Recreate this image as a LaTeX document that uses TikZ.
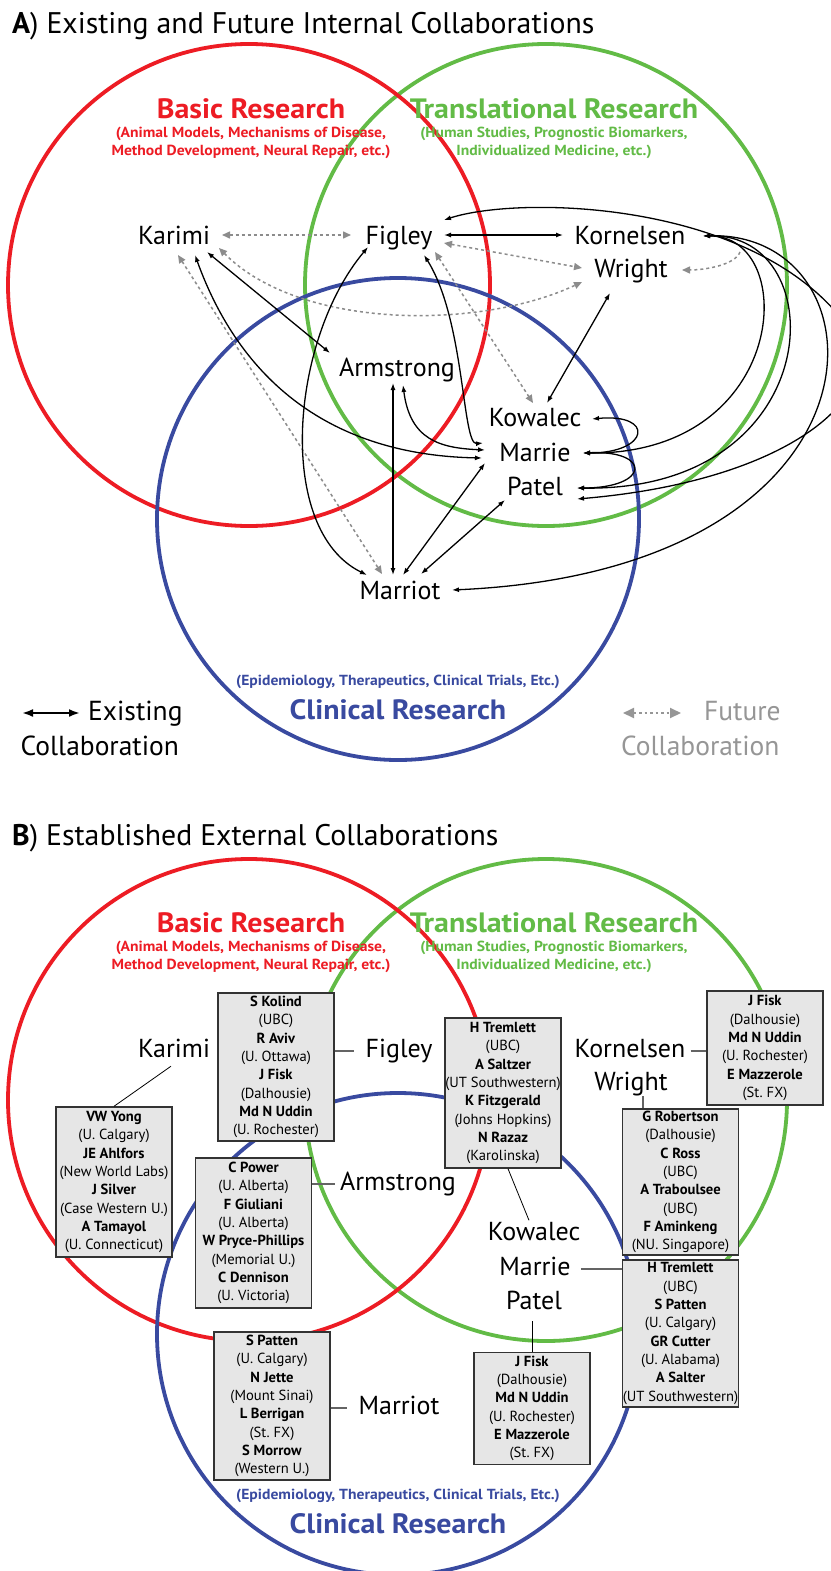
\documentclass[tikz,border=0pt]{standalone}
\usepackage{graphicx}
\usepackage{fontspec}
\setmainfont{PT Sans}
\usetikzlibrary{arrows.meta,calc}
\definecolor{cred}{RGB}{237,28,36}
\definecolor{cgreen}{RGB}{98,187,70}
\definecolor{cblue}{RGB}{57,74,160}
\definecolor{fgrey}{RGB}{140,140,140}
\definecolor{lgrey}{RGB}{150,150,150}
\definecolor{boxfill}{RGB}{230,230,230}
\definecolor{boxline}{RGB}{51,51,51}
\definecolor{connc}{RGB}{100,100,100}
\newcommand{\widen}[1]{\scalebox{1.07}[1]{#1}}
\frenchspacing
\begin{document}
\frenchspacing
\begin{tikzpicture}[x=1pt,y=-1pt,
  circ/.style={line width=3.8pt},
  lbl/.style={font=\fontsize{26}{30}\selectfont, inner sep=0pt, text height=19pt, text depth=6pt, anchor=base},
  ttl/.style={font=\fontsize{29.8}{34}\selectfont, inner sep=0pt, anchor=base west},
  cat/.style={font=\bfseries\fontsize{28}{32}\selectfont, inner sep=0pt, anchor=base},
  subcat/.style={font=\bfseries\fontsize{14.6}{17}\selectfont, inner sep=0pt, anchor=base},
  leg/.style={font=\fontsize{27.5}{32}\selectfont, inner sep=0pt, anchor=base west},
  ex/.style={<->, >={Latex[length=7pt,width=5pt]}, line width=1.3pt},
  fu/.style={<->, draw=fgrey, line width=1.5pt, dash pattern=on 3pt off 3pt, >={Triangle[length=8pt,width=7pt,fill=fgrey]}},
  exbig/.style={<->, >={Latex[length=11pt,width=8pt]}, line width=2.2pt},
  fubig/.style={<->, draw=lgrey, line width=2pt, dash pattern=on 2.5pt off 3pt, >={Triangle[length=11pt,width=10pt,fill=lgrey]}},
  box/.style={draw=boxline, fill=boxfill, line width=1.4pt, align=center, minimum width=116pt, inner xsep=0.5pt, inner ysep=2pt, font=\fontsize{14.6}{18.33}\selectfont},
  conn/.style={draw=connc, line width=2pt},
  thin/.style={draw=black, line width=0.8pt}
]
\useasboundingbox (0,0) rectangle (830,1571);
\fill[white] (0,0) rectangle (830,1571);

% ================= PART A =================
\node[ttl] (titleA) at (12,33.5) {\textbf{A}) Existing and Future Internal Collaborations};

\draw[circ, cgreen] (546,285) circle (241);
\draw[circ, cred] (249,285) circle (241);
\draw[circ, cblue] (398,519) circle (241);

\node[cat, text=cred] (basicA) at (251,118.3) {\widen{Basic Research}};
\node[subcat, text=cred] (basicA1) at (251,137) {\widen{(Animal Models, Mechanisms of Disease,}};
\node[subcat, text=cred] (basicA2) at (251,155) {\widen{Method Development, Neural Repair, etc.)}};
\node[cat, text=cgreen] (transA) at (554,118.3) {\widen{Translational Research}};
\node[subcat, text=cgreen] (transA1) at (554,137) {\widen{(Human Studies, Prognostic Biomarkers,}};
\node[subcat, text=cgreen] (transA2) at (554,155) {\widen{Individualized Medicine, etc.)}};
\node[subcat, text=cblue] (clinA1) at (398,685) {\widen{(Epidemiology, Therapeutics, Clinical Trials, Etc.)}};
\node[cat, text=cblue] (clinA) at (398,719) {\widen{Clinical Research}};

\node[lbl] (karimi) at (174,244) {Karimi};
\node[lbl] (figley) at (399,244) {Figley};
\node[lbl] (kornelsen) at (630,244) {Kornelsen};
\node[lbl] (wright) at (631,277) {Wright};
\node[lbl] (armstrong) at (397,376) {Armstrong};
\node[lbl] (kowalec) at (535,426) {Kowalec};
\node[lbl] (marrie) at (535,461) {Marrie};
\node[lbl] (patel) at (535,495) {Patel};
\node[lbl] (marriot) at (400,599) {Marriot};

% future (dashed)
\draw[fu] ($(karimi)+(48,-2.5)$) -- ($(figley)+(-48,-2.5)$);
\draw[fu] ($(karimi)+(4,17.5)$) -- ($(marriot)+(-18,-18.5)$);
\draw[fu] ($(karimi)+(45,10.5)$) .. controls (300,330) and (480,330) .. ($(wright)+(-49,11.5)$);
\draw[fu] ($(figley)+(45,5.5)$) -- ($(wright)+(-49,-2.5)$);
\draw[fu] ($(figley)+(36,14.5)$) -- ($(kowalec)+(-2,-16.5)$);
\draw[fu,->] ($(kornelsen)+(110,14.5)$) .. controls (735,265) and (705,270) .. ($(wright)+(51,-0.5)$);

% existing (solid)
\draw[ex] ($(figley)+(45,-2.5)$) -- ($(kornelsen)+(-67,-2.5)$);
\draw[ex] ($(figley)+(45,-17.5)$) .. controls (520,195) and (760,200) .. (850,330) .. controls (890,388) and (800,480) .. ($(patel)+(42,10.5)$);
\draw[ex] ($(kornelsen)+(73,-1.5)$) .. controls (800,235) and (790,455) .. ($(marrie)+(48,-1.5)$);
\draw[ex] ($(kornelsen)+(73,-1.5)$) .. controls (835,232) and (830,492) .. ($(patel)+(42,-0.5)$);
\draw[ex] ($(kornelsen)+(73,-1.5)$) .. controls (890,230) and (905,570) .. ($(marriot)+(52,-2.5)$);
\draw[ex] ($(kowalec)+(57,-0.5)$) .. controls (655,413) and (650,453) .. ($(marrie)+(48,-1.5)$);
\draw[ex] ($(marrie)+(48,-1.5)$) .. controls (652,450) and (650,488) .. ($(patel)+(42,-0.5)$);
\draw[ex] ($(wright)+(-21,22.5)$) -- ($(kowalec)+(12,-16.5)$);
\draw[ex] ($(karimi)+(33,14.5)$) -- ($(armstrong)+(-67,-16.5)$);
\draw[ex] ($(karimi)+(21,17.5)$) .. controls (240,380) and (330,455) .. ($(marrie)+(-53,3.5)$);
\draw[ex] ($(armstrong)+(6,15.5)$) .. controls (410,440) and (440,448) .. ($(marrie)+(-50,-4.5)$);
\draw[ex] ($(figley)+(25,17.5)$) .. controls (465,320) and (462,445) .. ($(marrie)+(-52,-11.5)$);
\draw[ex] ($(figley)+(-31,9.5)$) .. controls (290,340) and (275,530) .. ($(marriot)+(-33,-17.5)$);
\draw[ex] ($(armstrong)+(-4,13.5)$) -- ($(marriot)+(-7,-17.5)$);
\draw[ex] ($(marriot)+(3,-17.5)$) -- ($(marrie)+(-50,8.5)$);
\draw[ex] ($(marriot)+(21,-18.5)$) -- ($(patel)+(-30,11.5)$);

% legend
\coordinate (le1) at (22,713);
\coordinate (le2) at (80,713);
\draw[exbig] (le1) -- (le2);
\node[leg] (exist) at (88,720.7) {Existing};
\node[leg] (collab1) at (20.5,755.5) {Collaboration};
\coordinate (lf1) at (623,713);
\coordinate (lf2) at (681,713);
\draw[fubig] (lf1) -- (lf2);
\node[leg, text=lgrey] (future) at (704,720.7) {Future};
\node[leg, text=lgrey] (collab2) at (621,755.5) {Collaboration};

% ================= PART B =================
\node[ttl] (titleB) at (12,845.5) {\textbf{B}) Established External Collaborations};

\draw[circ, cgreen] (546,1100) circle (241);
\draw[circ, cred] (249,1100) circle (241);
\draw[circ, cblue] (398,1334) circle (241);

\node[cat, text=cred] (basicB) at (251,932.7) {\widen{Basic Research}};
\node[subcat, text=cred] (basicB1) at (251,951) {\widen{(Animal Models, Mechanisms of Disease,}};
\node[subcat, text=cred] (basicB2) at (251,969.5) {\widen{Method Development, Neural Repair, etc.)}};
\node[cat, text=cgreen] (transB) at (554,932.7) {\widen{Translational Research}};
\node[subcat, text=cgreen] (transB1) at (554,951) {\widen{(Human Studies, Prognostic Biomarkers,}};
\node[subcat, text=cgreen] (transB2) at (554,969.5) {\widen{Individualized Medicine, etc.)}};
\node[subcat, text=cblue] (clinB1) at (398,1499) {\widen{(Epidemiology, Therapeutics, Clinical Trials, Etc.)}};
\node[cat, text=cblue] (clinB) at (398,1533) {\widen{Clinical Research}};

\node[lbl] (karimiB) at (174,1057) {Karimi};
\node[lbl] (figleyB) at (399,1057) {Figley};
\node[lbl] (kornelsenB) at (630,1057) {Kornelsen};
\node[lbl] (wrightB) at (631,1090) {Wright};
\node[lbl] (armstrongB) at (398,1190) {Armstrong};
\node[lbl] (kowalecB) at (534,1240.5) {Kowalec};
\node[lbl] (marrieB) at (535,1275) {Marrie};
\node[lbl] (patelB) at (534,1309) {Patel};
\node[lbl] (marriotB) at (399,1414) {Marriot};

\node[box, minimum height=150pt] (kbox) at (114,1182) {\textbf{VW Yong}\\(U. Calgary)\\\textbf{JE Ahlfors}\\(New World Labs)\\\textbf{J Silver}\\(Case Western U.)\\\textbf{A Tamayol}\\(U. Connecticut)};
\node[box, minimum height=148pt] (fbox) at (276,1067) {\textbf{S Kolind}\\(UBC)\\\textbf{R Aviv}\\(U. Ottawa)\\\textbf{J Fisk}\\(Dalhousie)\\\textbf{Md N Uddin}\\(U. Rochester)};
\node[box, minimum height=150pt] (tbox) at (503,1093) {\textbf{H Tremlett}\\(UBC)\\\textbf{A Saltzer}\\(UT Southwestern)\\\textbf{K Fitzgerald}\\(Johns Hopkins)\\\textbf{N Razaz}\\(Karolinska)};
\node[box, minimum height=114pt] (kobox) at (765,1048) {\textbf{J Fisk}\\(Dalhousie)\\\textbf{Md N Uddin}\\(U. Rochester)\\\textbf{E Mazzerole}\\(St. FX)};
\node[box, minimum height=146pt] (wbox) at (680.5,1182) {\textbf{G Robertson}\\(Dalhousie)\\\textbf{C Ross}\\(UBC)\\\textbf{A Traboulsee}\\(UBC)\\\textbf{F Aminkeng}\\(NU. Singapore)};
\node[box, minimum height=150pt] (abox) at (253.5,1233) {\textbf{C Power}\\(U. Alberta)\\\textbf{F Giuliani}\\(U. Alberta)\\\textbf{W Pryce-Phillips}\\(Memorial U.)\\\textbf{C Dennison}\\(U. Victoria)};
\node[box, minimum height=147pt] (mbox) at (680.5,1333.5) {\textbf{H Tremlett}\\(UBC)\\\textbf{S Patten}\\(U. Calgary)\\\textbf{GR Cutter}\\(U. Alabama)\\\textbf{A Salter}\\(UT Southwestern)};
\node[box, minimum height=148pt] (mtbox) at (272,1406) {\textbf{S Patten}\\(U. Calgary)\\\textbf{N Jette}\\(Mount Sinai)\\\textbf{L Berrigan}\\(St. FX)\\\textbf{S Morrow}\\(Western U.)};
\node[box, minimum height=112pt] (pbox) at (532,1408.5) {\textbf{J Fisk}\\(Dalhousie)\\\textbf{Md N Uddin}\\(U. Rochester)\\\textbf{E Mazzerole}\\(St. FX)};

% connectors B
\draw[thin] ($(karimiB.south)+(-3,3)$) -- (kbox.north);
\draw[conn] (fbox.east |- figleyB.center) -- ($(figleyB.west)+(-11,0)$);
\draw[conn] ($(kornelsenB.east)+(5,0)$) -- (kobox.west |- kornelsenB.center);
\draw[conn] ([xshift=12pt]wrightB.south) -- ([xshift=12pt]wrightB.south |- wbox.north);
\draw[conn] (abox.east |- armstrongB.center) -- ($(armstrongB.west)+(-5,0)$);
\draw[thin] ([xshift=5pt]tbox.south) -- ($(kowalecB.north)+(-5,-1)$);
\draw[conn] ($(marrieB.east)+(10,0)$) -- (mbox.west |- marrieB.center);
\draw[thin] ($(patelB.south)+(-2,6)$) -- ([xshift=-2pt]patelB.south |- pbox.north);
\draw[conn] (mtbox.east |- marriotB.center) -- ($(marriotB.west)+(-11,0)$);
\end{tikzpicture}
\end{document}
